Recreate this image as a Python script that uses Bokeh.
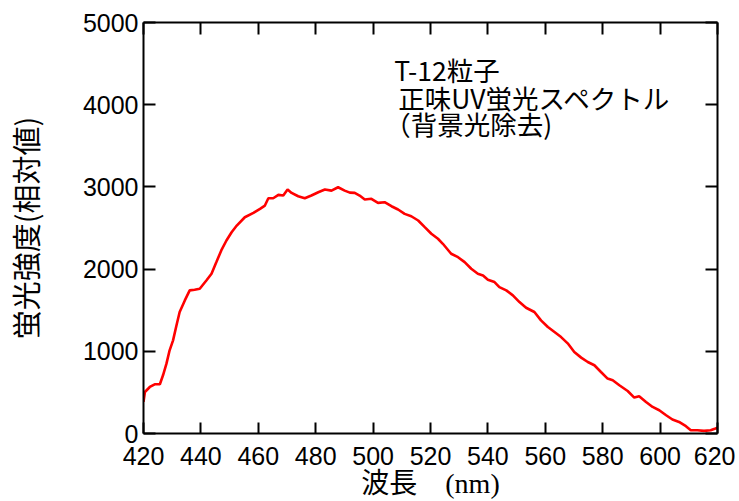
from bokeh.plotting import figure
from bokeh.models import Range1d, LinearAxis, Label
from bokeh.embed import file_html
from bokeh.resources import INLINE

wavelength = [420.0, 420.5, 422.2, 423.9, 425.7, 426.8, 428.0, 429.1, 430.3, 431.5,
              432.6, 434.4, 436.1, 437.8, 439.6, 441.9, 443.7, 445.4, 447.1, 448.9,
              450.7, 452.5, 455.3, 458.3, 460.6, 462.3, 463.5, 465.2, 467.0, 468.7,
              470.2, 471.6, 473.9, 476.2, 478.5, 480.9, 483.2, 485.5, 487.8, 490.1,
              491.9, 493.6, 495.3, 497.1, 499.4, 501.7, 504.0, 506.4, 508.7, 511.0,
              513.3, 515.7, 518.0, 520.3, 522.6, 524.3, 527.2, 529.6, 531.9, 534.2,
              536.5, 538.3, 540.0, 542.3, 544.0, 546.4, 548.7, 551.0, 553.3, 556.2,
              558.5, 560.9, 563.2, 565.5, 567.8, 570.1, 572.5, 574.8, 577.1, 579.4,
              581.7, 583.5, 585.8, 588.7, 591.0, 592.7, 595.1, 597.4, 599.7, 602.1,
              604.3, 606.6, 609.0, 610.7, 613.0, 615.3, 617.6, 619.3, 620.0]
intensity = [384, 505, 566, 599, 599, 708, 850, 1012, 1133, 1316,
             1478, 1619, 1741, 1749, 1761, 1862, 1944, 2085, 2227, 2348,
             2449, 2530, 2631, 2684, 2733, 2773, 2862, 2862, 2903, 2895,
             2968, 2927, 2886, 2862, 2895, 2935, 2968, 2955, 2996, 2955,
             2930, 2927, 2895, 2846, 2855, 2806, 2814, 2765, 2725, 2672,
             2643, 2591, 2510, 2430, 2369, 2308, 2187, 2145, 2085, 2004,
             1944, 1923, 1871, 1842, 1781, 1741, 1680, 1599, 1530, 1478,
             1376, 1295, 1234, 1173, 1097, 991, 923, 870, 830, 748,
             668, 647, 587, 517, 437, 453, 384, 323, 283, 222,
             170, 141, 89, 40, 40, 32, 40, 61, 70]

x_ticks = [420, 440, 460, 480, 500, 520, 540, 560, 580, 600, 620]
y_ticks = [0, 1000, 2000, 3000, 4000, 5000]
note_lines = ["T-12粒子", "正味UV蛍光スペクトル", "（背景光除去)"]
y_title = "蛍光強度(相対値)"
x_title = "波長　(nm)"

p = figure(width=735, height=501, output_backend="svg", toolbar_location=None,
           x_range=Range1d(420, 620), y_range=Range1d(0, 5000),
           min_border_left=142, min_border_right=18, min_border_top=22,
           min_border_bottom=68, x_axis_location=None, y_axis_location=None)
p.grid.visible = False
p.outline_line_color = None
p.background_fill_color = "white"
p.border_fill_color = "white"

def style(ax, ticks, labels, major_in, minor_in):
    ax.axis_line_width = 2
    ax.axis_line_color = "black"
    ax.major_tick_in = major_in
    ax.major_tick_out = 0
    ax.minor_tick_in = minor_in
    ax.minor_tick_out = 0
    ax.major_tick_line_width = 2
    ax.minor_tick_line_width = 2
    ax.major_tick_line_color = "black"
    ax.minor_tick_line_color = "black"
    ax.major_label_text_font = "Liberation Sans"
    ax.major_label_text_color = "black"
    if labels:
        ax.major_label_text_font_size = "25px"
    else:
        ax.major_label_overrides = {float(t): "" for t in ticks}
        ax.major_label_text_font_size = "1px"
        ax.major_label_standoff = 0

xb = LinearAxis(ticker=x_ticks)
xb.ticker.num_minor_ticks = 2
style(xb, x_ticks, True, 11, 6)
xb.major_label_standoff = 13
xb.axis_label = x_title
xb.axis_label_text_font = "'Liberation Serif', 'Noto Sans CJK JP'"
xb.axis_label_text_font_size = "28px"
xb.axis_label_text_font_style = "normal"
xb.axis_label_text_color = "black"
xb.axis_label_standoff = 0
p.add_layout(xb, "below")

xt = LinearAxis(ticker=x_ticks)
xt.ticker.num_minor_ticks = 2
style(xt, x_ticks, False, 12, 6)
p.add_layout(xt, "above")

yl = LinearAxis(ticker=y_ticks)
yl.ticker.num_minor_ticks = 2
style(yl, y_ticks, True, 12, 6)
yl.major_label_standoff = 5
yl.axis_label = y_title
yl.axis_label_text_font = "Noto Sans CJK JP"
yl.axis_label_text_font_size = "29px"
yl.axis_label_text_font_style = "normal"
yl.axis_label_text_color = "black"
yl.axis_label_standoff = 34
p.add_layout(yl, "left")

yr = LinearAxis(ticker=y_ticks)
yr.ticker.num_minor_ticks = 2
style(yr, y_ticks, False, 12, 6)
p.add_layout(yr, "right")

p.line(wavelength, intensity, line_color="#ff0000", line_width=2.6)

note_x = [507.4, 508.8, 503.9]
note_y = [4430, 4092, 3770]
for t, xx, yy in zip(note_lines, note_x, note_y):
    p.add_layout(Label(x=xx, y=yy, text=t, text_font="Noto Sans CJK JP",
                       text_font_size="26.5px", text_color="black",
                       text_baseline="alphabetic", text_align="left"))

open("out.html", "w").write(file_html(p, INLINE))
